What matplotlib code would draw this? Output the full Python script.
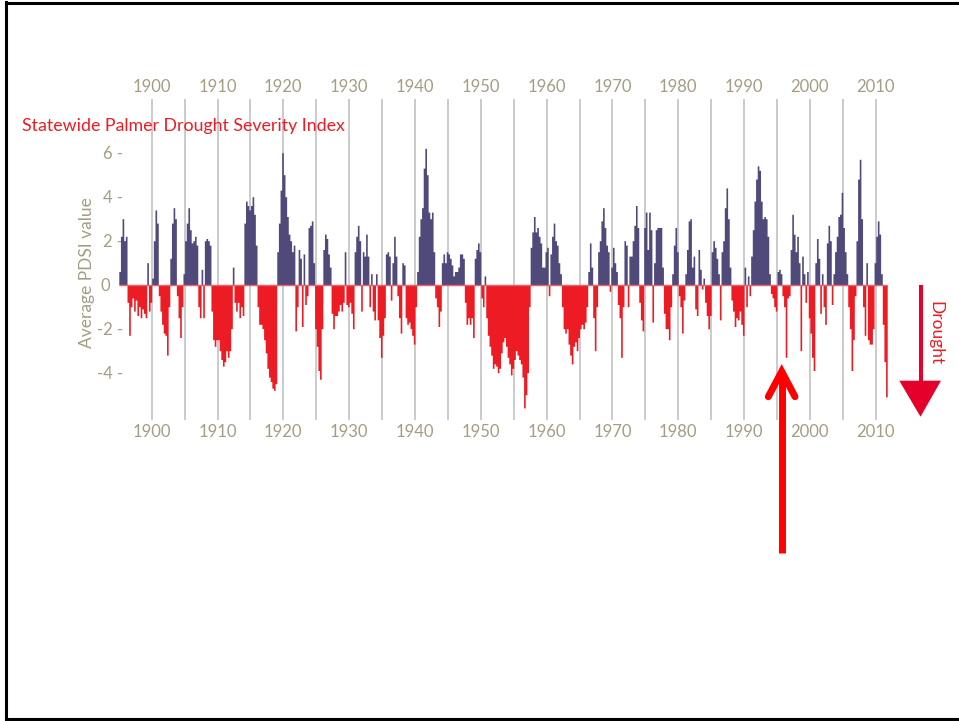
import numpy as np
import matplotlib
matplotlib.use("Agg")
import matplotlib.pyplot as plt
from matplotlib.lines import Line2D
from matplotlib.patches import Polygon

plt.rcParams['font.family'] = ['Lato', 'DejaVu Sans']

# ---- data: quarterly statewide PDSI, starting 1895 Q1 ----
start_year = 1895.0
step = 0.25
pdsi_1895_1899 = [0.6, 2.2, 3.0, 2.0,  2.2, -0.8, -2.3, -1.0,  -0.6, -1.2, -0.7, -1.4,
                  -1.0, -1.5, -1.1, -1.3,  -1.5, 1.0, -1.2, -0.8]
pdsi_1900s = [0.3, 2.0, 3.4, 2.8,  -0.5, -1.2, -1.8, -2.2,  -2.3, -3.2, -1.0, 1.2,
              2.8, 3.5, 3.0, -0.5,  -1.5, -2.4, -1.0, 0.5,  2.0, 2.8, 3.5, 2.5,
              1.9, 2.0, 2.2, 1.8,  -1.0, -1.5, 0.7, -1.5,  2.0, 2.1, 2.0, 1.8,
              -1.2, -2.5, -2.8, -2.5]
pdsi_1910s = [-2.5, -3.0, -3.4, -3.7,  -3.5, -3.0, -3.3, -3.0,  -2.0, 0.8, -0.8, -1.2,
              -0.8, -1.5, -1.0, -1.4,  2.8, 3.8, 3.6, 3.4,  3.6, 4.0, 3.2, 1.8,
              -1.0, -1.8, -1.8, -2.0,  -2.5, -3.1, -3.8, -4.2,  -4.4, -4.7, -4.8, -4.5,
              1.5, 2.8, 4.3, 6.0]
pdsi_1920s = [5.0, 4.0, 3.1, 2.3,  2.0, 1.5, 1.8, -2.1,  -1.0, 1.6, 1.2, -1.9,
              1.4, -0.9, -0.5, 2.6,  2.7, 2.9, 1.0, -2.0,  -2.8, -3.9, -4.3, -2.0,
              1.6, 2.3, 2.1, 1.4,  0.8, -1.3, -2.0, -1.4,  -1.4, -1.2, -0.9, -1.2,
              -0.8, 1.5, -0.9, -1.0]
pdsi_1930s = [-0.8, -1.3, -2.0, 1.5,  2.2, 2.7, 2.0, -1.2,  1.5, 1.3, 2.3, 1.3,
              -1.0, 0.5, -1.2, -1.6,  0.5, -1.6, -2.4, -3.3,  -2.3, -1.5, 1.4, 1.5,
              1.3, -0.7, 1.0, 2.2,  1.3, -0.5, -1.5, -2.2,  1.0, 0.9, -1.5, -1.8,
              -1.7, -2.0, -2.3, -2.7]
pdsi_1940s = [-1.0, 0.6, 2.2, 3.0,  3.5, 5.3, 6.2, 5.0,  3.3, 3.0, 3.3, 1.5,
              -0.6, -1.0, -1.9, -1.2,  1.0, 1.4, 1.0, 1.5,  1.4, 1.2, 0.9, 0.4,
              0.6, 0.6, 0.8, 1.4,  1.4, 1.2, -0.8, -1.8,  -1.5, -1.8, -1.5, -2.4,
              1.2, 1.6, 1.9, 1.5]
pdsi_1950s = [-0.6, -1.0, 0.4, -1.5,  -2.3, -2.8, -3.2, -3.8,  -3.6, -3.7, -4.0, -3.8,
              -3.1, -2.6, -2.4, -2.8,  -3.3, -3.6, -4.1, -3.8,  -3.4, -3.0, -3.2, -3.4,
              -3.6, -4.2, -5.6, -5.0,  -4.0, -1.0, 1.7, 2.4,  3.1, 2.4, 2.6, 2.2,
              1.9, 0.8, 0.8, 1.5]
pdsi_1960s = [1.7, -0.5, 1.4, 2.2,  2.8, 2.0, 1.8, 1.0,  0.5, -1.0, -2.0, -2.2,
              -2.0, -2.7, -3.2, -3.6,  -2.8, -2.6, -3.0, -2.4,  -2.0, -1.8, -2.0, -1.7,
              -1.0, 0.6, 1.9, 0.8,  -1.5, -3.0, -1.0, 1.5,  2.0, 2.9, 3.5, 2.6,
              1.8, 1.5, -0.3, 0.8]
pdsi_1970s = [1.7, 1.0, 0.6, -0.9,  -1.5, -3.3, -1.0, 2.0,  1.8, -1.0, 1.3, 1.3,
              2.0, 2.7, 3.6, 2.6,  -0.8, -1.6, -2.1, 2.6,  3.3, 1.6, 3.3, 2.5,
              -1.7, 1.0, 2.5, 2.6,  2.6, 2.6, 0.8, -1.3,  -2.0, -2.0, -2.5, -1.0,
              0.5, 1.8, 2.6, 1.5]
pdsi_1980s = [-0.5, -1.0, -2.2, -0.7,  0.5, 1.6, 2.9, 3.0,  0.8, 1.3, -1.1, -1.4,
              1.6, 0.7, -0.2, 0.3,  -0.8, -1.4, -2.0, -1.4,  1.5, 2.0, 1.7, 1.2,
              0.5, -1.6, 1.5, 2.0,  3.5, 4.4, 3.0, 0.8,  -0.7, -1.2, -1.9, -1.5,
              -1.6, -1.2, -1.8, -2.3]
pdsi_1990s = [0.8, -1.0, 0.4, -0.5,  1.3, 2.5, 3.8, 4.8,  5.4, 5.2, 3.8, 3.0,
              3.1, 3.0, 2.2, 0.5,  -0.4, -0.6, -1.0, -1.2,  0.6, 0.7, 0.5, -0.5,
              -1.0, -3.3, -0.6, -0.5,  1.6, 3.2, 2.3, 1.5,  2.2, 1.0, -3.0, 1.3,
              0.5, -0.8, 0.6, -1.5]
pdsi_2000s = [-2.2, -3.3, -3.9, 1.0,  2.1, 1.2, -1.3, 0.5,  -1.0, -1.8, 1.9, 2.7,
              2.0, -0.9, 0.5, 1.5,  2.2, 3.1, 3.2, 4.2,  2.6, 1.5, 0.5, -1.0,
              -2.0, -3.9, -2.5, -0.5,  2.0, 4.8, 5.7, 3.0,  -1.0, -2.3, 1.0, -2.5,
              -2.7, -2.7, -2.0, 1.0]
pdsi_2010s = [2.2, 2.9, 2.3, 0.5,  -1.8, -3.5, -5.1]

top_years = list(range(1900, 2011, 10))
grid_years = list(range(1900, 2011, 5))
y_ticks = [6, 4, 2, 0, -2, -4]
y_tick_labels = ["6 -", "4 -", "2 -", "0   ", "-2 -", "-4 -"]

values = np.array(pdsi_1895_1899 + pdsi_1900s + pdsi_1910s + pdsi_1920s + pdsi_1930s +
                  pdsi_1940s + pdsi_1950s + pdsi_1960s + pdsi_1970s + pdsi_1980s +
                  pdsi_1990s + pdsi_2000s + pdsi_2010s)
x = start_year + step * np.arange(len(values) + 1)
v = np.append(values, values[-1])

# ---- colours ----
POS = '#504a7a'
NEG = '#ed1c24'
KHAKI = '#a39d84'
GRID = '#bdbdbd'

W, H = 959, 721
fig = plt.figure(figsize=(W / 100, H / 100), dpi=100)

def fx(px):
    return px / W

def fy(py):
    return 1 - py / H

# pixel geometry of plot
ppy = (875.7 - 151.7) / 110.0     # pixels per year
ppu = 22.0                         # pixels per PDSI unit
ax_l, ax_r, ax_t, ax_b = 100, 905, 99, 420
zero_px = 284.7
ax = fig.add_axes([fx(ax_l), fy(ax_b), (ax_r - ax_l) / W, (ax_b - ax_t) / H])
ax.set_xlim(1900 + (ax_l - 151.7) / ppy, 1900 + (ax_r - 151.7) / ppy)
ax.set_ylim((zero_px - ax_b) / ppu, (zero_px - ax_t) / ppu)

for gy in grid_years:
    ax.axvline(gy, color=GRID, lw=1.1, zorder=1)

ax.fill_between(x, 0, np.where(v > 0, v, 0), step='post', color=POS, lw=0, zorder=2)
ax.fill_between(x, 0, np.where(v < 0, v, 0), step='post', color=NEG, lw=0, zorder=2)
ax.hlines(0, x[0], x[-1], color='#e9606a', lw=1.0, zorder=3)

for s in ax.spines.values():
    s.set_visible(False)
ax.set_xticks(top_years)
ax.set_xticklabels([str(y) for y in top_years])
ax.tick_params(axis='x', length=0, labeltop=True, labelbottom=True,
               labelcolor=KHAKI, labelsize=12, pad=3)
ax.set_yticks(y_ticks)
ax.set_yticklabels(y_tick_labels)
ax.tick_params(axis='y', length=0, labelcolor=KHAKI, labelsize=12,
               pad=-(123 - ax_l) / 1.389)
ax.patch.set_alpha(0)

fig.text(fx(87), fy(273), "Average PDSI value", rotation=90, ha='center', va='center',
         color=KHAKI, fontsize=12.5)
fig.text(fx(22), fy(126), "Statewide Palmer Drought Severity Index", ha='left',
         va='center', color=NEG, fontsize=12.8)

# Drought arrow on the right
AR = '#e4002b'
fig.add_artist(Line2D([fx(920.7), fx(920.7)], [fy(285), fy(382)], color=AR, lw=2.9,
                      solid_capstyle='butt'))
fig.add_artist(Polygon([[fx(899.3), fy(380.7)], [fx(941), fy(380.7)], [fx(920.5), fy(416.7)]],
                       closed=True, color=AR, lw=0, transform=fig.transFigure))
fig.text(fx(935), fy(333), "Drought", rotation=-90, ha='center', va='center',
         color=NEG, fontsize=12.5)

# big red pointer arrow
fig.add_artist(Line2D([fx(781.7), fx(781.7)], [fy(553), fy(374)], color='#ff0000', lw=5,
                      solid_capstyle='butt'))
fig.add_artist(Line2D([fx(768.3), fx(781.7), fx(795)], [fy(396.7), fy(371.5), fy(396.7)],
                      color='#ff0000', lw=5, solid_capstyle='round', solid_joinstyle='miter'))

# frame
fig.add_artist(Line2D([fx(6), fx(6)], [fy(2), fy(719)], color='black', lw=2.2))
fig.add_artist(Line2D([fx(6), fx(959)], [fy(718.5), fy(718.5)], color='black', lw=2.2))
fig.add_artist(Line2D([fx(6), fx(959)], [fy(2.5), fy(2.5)], color='black', lw=2.2))

fig.savefig("out.png", dpi=100)
